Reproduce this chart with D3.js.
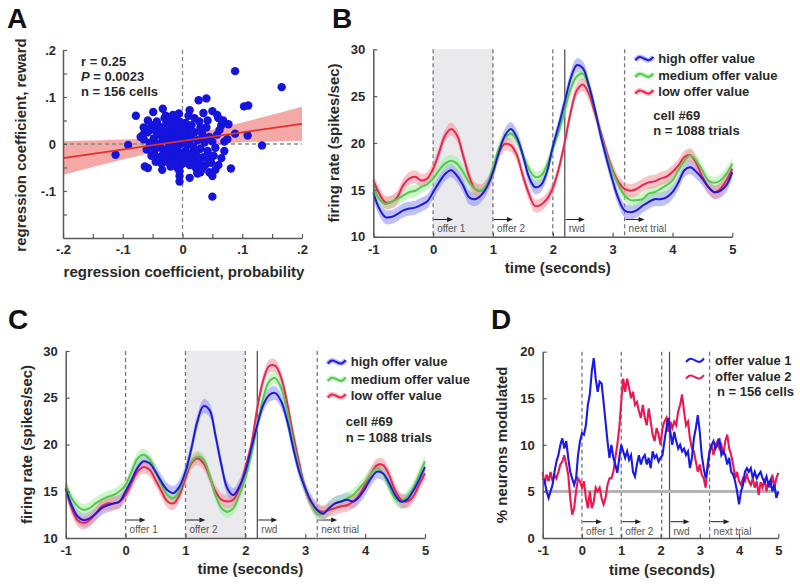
<!DOCTYPE html>
<html><head><meta charset="utf-8">
<script src="https://cdn.jsdelivr.net/npm/d3@7"></script>
<style>
body{margin:0;background:#fff}
svg{display:block}
text{font-family:"Liberation Sans",Arial,Helvetica,sans-serif}
</style>
</head><body>
<script>
// ---------------- DATA ----------------
// Panel A scatter
const scatterX = [0.166,0.088,0.05,0.133,0.109,0.103,0.11,-0.112,-0.091,-0.078,-0.063,-0.058,0.081,0.05,0.025,0.03,0.012,-0.005,-0.005,-0.005,-0.034,0.012,0.027,0.04,-0.049,-0.033,0.077,0.088,0.07,-0.066,-0.065,0.05,0.06,0.065,0.058,-0.055,-0.05,-0.03,0.035,0.075,
 -0.02,-0.012,-0.005,-0.018,-0.008,-0.025,-0.015,-0.004,-0.022,-0.01,-0.028,-0.017,-0.006,-0.024,-0.013,-0.003,-0.02,-0.009,-0.027,-0.016,-0.005,-0.022,-0.011,-0.019,-0.007,-0.025,-0.014,-0.003,-0.02,-0.009,-0.012,-0.027,-0.002,-0.016,-0.006,-0.022,-0.001,-0.013,-0.03,-0.008,
 -0.045,-0.038,-0.048,-0.033,-0.042,-0.036,-0.047,-0.032,-0.04,-0.045,-0.035,-0.04,-0.052,-0.058,-0.055,-0.06,-0.052,-0.03,-0.043,-0.035,
 0.005,0.015,0.028,0.04,0.008,0.02,0.033,0.045,0.004,0.013,0.025,0.037,0.008,0.018,0.03,0.042,0.005,0.014,0.024,0.035,0.045,0.008,0.018,0.028,0.038,0.012,0.022,0.033,0.003,0.048,0.052,0.055,0.05,0.058,0.062,0.02,0.01,0.03,0.042,0.015,
 0.065,0.06,0.055,0.07,-0.065,-0.07,0.003,-0.001,0.0,0.068,-0.058,0.02,0.035,-0.028,0.025,0.045];
const scatterY = [0.121,0.155,-0.112,-0.003,0.018,0.08,0.082,-0.023,-0.002,0.06,-0.048,-0.051,-0.052,-0.068,-0.063,-0.06,-0.072,-0.068,-0.08,-0.058,-0.055,0.072,0.093,0.097,0.068,0.075,0.042,0.022,-0.015,0.02,0.01,0.07,0.055,0.04,0.062,0.03,-0.005,0.055,0.066,0.01,
 0.05,0.055,0.048,0.04,0.038,0.032,0.03,0.028,0.022,0.02,0.015,0.012,0.01,0.005,0.003,0.0,-0.005,-0.008,-0.012,-0.015,-0.018,-0.022,-0.025,-0.032,-0.035,-0.038,-0.042,-0.045,-0.048,-0.05,0.045,0.045,0.04,0.062,0.065,-0.001,0.018,-0.002,0.03,0.025,
 0.028,0.02,0.012,0.01,0.0,-0.008,-0.015,-0.02,-0.028,-0.038,-0.042,0.038,0.04,0.025,0.002,-0.012,-0.025,-0.03,0.048,0.035,
 0.045,0.04,0.048,0.035,0.03,0.025,0.022,0.015,0.015,0.01,0.008,0.003,-0.002,-0.006,-0.01,-0.015,-0.015,-0.02,-0.025,-0.028,-0.032,-0.03,-0.036,-0.04,-0.045,-0.045,-0.05,-0.052,-0.04,-0.04,-0.025,-0.008,0.005,0.02,0.03,0.055,0.06,0.035,0.05,0.02,
 -0.03,-0.045,-0.055,0.005,0.035,0.015,0.005,-0.025,0.035,0.05,0.05,-0.015,0.012,0.06,-0.06,-0.06];
const fitX = [-0.2, 0.2];
const fitY = [-0.030, 0.043];
const bandX  = [-0.2,-0.15,-0.1,-0.05,0,0.05,0.1,0.15,0.2];
const bandLo = [-0.066,-0.049,-0.033,-0.018,-0.0065,0.0,0.0036,0.0055,0.007];
const bandHi = [0.006,0.0075,0.0094,0.013,0.0195,0.031,0.046,0.062,0.079];
const statsA = ["r = 0.25", "P = 0.0023", "n = 156 cells"];
const ticksA = [-0.2,-0.1,0,0.1,0.2];
const tickLabelsA = ["-.2","-.1","0",".1",".2"];
const yTicksA = [-0.1,0,0.1,0.2];
const yTickLabelsA = ["-.1","0",".1",".2"];

// Panels B, C: time grid 0.1 s
const timeBC = d3.range(61).map(i => +(-1 + i*0.1).toFixed(2));
const highB = [14.7,13.0,12.1,12.1,12.4,12.8,13.0,13.1,13.4,13.75, 14.75,15.8,16.7,17.1,16.5,15.5,14.2,14.0,14.4,15.3, 16.9,19.0,20.8,21.5,20.6,18.7,16.4,15.3,15.5,16.9, 19.6,21.9,24.4,26.9,28.3,28.0,26.2,23.7,20.8,18.3, 16.0,14.0,12.8,12.6,12.8,13.3,13.7,14.0,14.0,14.2, 14.75,15.8,17.1,17.4,16.9,16.2,15.3,14.75,14.9,15.5, 16.9];
const medB  = [15.5,14.0,13.5,13.7,14.0,14.4,14.75,14.9,15.3,15.6, 16.2,17.1,17.8,18.1,17.8,16.9,15.8,15.1,14.9,15.6, 17.4,19.4,20.6,21.0,20.3,18.7,17.25,16.4,16.5,17.6, 19.4,21.2,23.5,25.8,27.1,27.4,26.0,23.7,21.0,18.7, 16.9,15.5,14.4,13.9,13.9,14.0,14.6,14.75,15.1,15.5, 16.0,17.1,18.1,18.7,18.1,17.1,16.0,15.75,16.0,16.7, 17.8];
const lowB  = [16.0,14.6,13.7,13.7,14.2,15.5,16.2,16.4,16.0,16.2, 17.25,19.0,20.8,21.5,20.8,18.7,16.5,15.1,14.9,15.5, 16.9,19.0,19.9,19.75,18.7,16.5,14.6,13.3,13.4,14.0, 15.2,17.25,20.1,23.3,25.6,26.25,25.3,23.3,21.2,19.0, 17.1,15.8,15.1,14.9,15.1,15.5,15.8,15.9,16.2,16.4, 16.9,17.6,18.5,18.7,17.8,16.4,15.3,14.75,15.1,16.0, 17.25];
const highC = [15.3,13.5,12.3,11.9,12.1,12.6,13.2,13.5,13.7,13.9, 15.0,16.2,17.5,18.2,18.0,17.1,16.0,15.1,14.8,15.5, 17.1,19.6,22.5,24.1,23.7,21.0,17.8,15.3,14.6,15.5, 17.1,19.6,22.1,24.25,25.3,25.5,24.6,22.5,19.6,17.1, 15.3,13.9,13.0,12.6,13.2,13.7,13.9,14.1,13.9,14.4, 15.3,16.4,17.1,16.9,15.9,14.6,13.9,14.1,15.0,16.2, 17.6];
const medC  = [15.7,14.25,13.4,13.0,13.2,13.7,14.1,14.4,14.6,15.0, 15.7,17.1,18.5,18.9,18.4,17.1,15.7,14.6,14.25,15.1, 16.9,18.2,18.7,18.4,16.75,14.6,13.2,12.8,13.2,14.6, 16.4,18.9,22.1,25.0,26.75,27.1,26.0,23.5,20.3,17.5, 15.3,13.7,12.6,12.6,13.2,13.7,13.9,14.25,14.6,15.3, 16.0,16.9,17.5,16.9,15.5,14.25,13.9,14.4,15.3,16.75, 18.2];
const lowC  = [15.3,13.2,11.9,11.6,11.9,12.6,13.4,13.7,13.7,13.9, 14.6,15.9,17.1,17.6,17.3,16.2,15.0,13.9,13.7,14.6, 16.4,18.0,18.5,18.0,16.6,15.0,14.1,13.9,14.1,15.3, 17.5,20.0,23.9,26.9,28.4,28.4,27.1,24.4,21.0,18.0, 15.3,13.7,13.0,12.8,13.0,13.2,13.4,13.5,13.9,14.6, 15.7,16.9,17.8,17.8,16.75,15.1,14.1,13.9,14.4,15.7, 16.9];
const semBC = [0.75, 0.65, 0.7];       // band half-widths (high, medium, low)
const seriesNamesBC = ["high offer value", "medium offer value", "low offer value"];
const cellInfo = ["cell #69", "n = 1088 trials"];
const timeTicks = [-1,0,1,2,3,4,5];
const rateTicks = [10,15,20,25,30];

// Panel D: time grid 0.05 s
const timeD = d3.range(121).map(i => +(-1 + i*0.05).toFixed(3));
const offer1D = [6.4,6.1,5.0,4.3,5.0,5.7,7.1,8.2,8.9,10.0, 10.7,9.6,10.4,8.6,7.1,6.4,5.7,6.4,8.9,10.4, 11.25,11.1,12.1,14.3,15.4,17.9,19.3,17.1,15.7,16.8, 16.6,14.6,12.5,10.4,8.6,10.0,8.6,7.9,7.0,8.6, 10.0,9.3,8.6,9.3,8.4,8.9,7.1,6.6,7.9,8.9, 7.9,8.6,8.9,7.9,8.6,7.5,9.3,8.6,8.9,8.2, 8.6,8.9,10.4,11.8,12.9,11.4,10.0,11.4,10.4,9.6, 10.0,9.3,9.6,8.9,9.3,7.5,8.6,10.7,11.8,13.2, 11.4,8.9,7.5,6.4,7.5,9.3,10.0,10.4,9.6,10.0, 10.7,8.9,9.3,8.9,7.9,8.6,7.1,6.8,6.1,5.0, 3.6,5.0,5.7,7.1,7.5,7.1,7.5,6.4,7.1,6.4, 6.8,7.1,6.4,6.0,6.6,5.7,6.2,5.0,5.7,4.3, 5.0];
const offer2D = [7.1,5.7,6.8,6.1,7.1,6.1,6.8,6.4,7.1,7.9, 8.2,8.9,7.9,6.8,4.3,2.5,3.2,5.0,6.4,6.1, 5.4,6.1,4.3,3.2,5.0,3.2,3.9,5.4,5.0,5.4, 4.3,3.6,4.3,5.7,6.4,6.4,7.1,8.6,10.0,11.8, 14.6,17.1,15.7,17.1,16.1,15.0,15.7,14.3,14.6,13.6, 12.9,14.3,12.9,12.1,13.9,12.5,11.1,10.4,11.8,11.1, 10.0,11.8,12.5,12.9,11.4,12.5,11.8,12.5,12.1,13.6, 14.3,15.4,13.6,12.1,12.5,10.7,9.6,9.3,8.2,7.1, 7.9,6.8,6.4,5.4,7.9,9.3,10.0,8.9,10.0,10.4, 9.6,10.0,8.9,10.4,11.1,9.6,8.9,7.9,6.4,7.1, 6.1,5.7,6.4,6.1,6.8,6.1,5.7,6.4,5.4,6.1, 4.6,6.0,5.4,6.4,5.0,6.1,5.4,6.8,5.4,6.4, 7.0];
const seriesNamesD = ["offer value 1", "offer value 2"];
const cellsD = "n = 156 cells";
const chanceLevel = 5;
const pctTicks = [0,5,10,15,20];

// task events
const eventLabels = ["offer 1", "offer 2", "rwd", "next trial"];
const eventTimesBC = [0, 1, 2.2, 3.2];
const dashedBC = [0, 1, 2, 3.2];
const solidBC = [2.2];
const eventTimesD = [0, 1, 2.23, 3.25];
const dashedD = [0, 1, 2.03, 3.25];
const solidD = [2.23];

// ---------------- DRAWING ----------------
const FONT = '"Liberation Sans",Arial,Helvetica,sans-serif';
const AX = "#5a5a5a", TXT = "#2a2a2a";
const svg = d3.select("body").append("svg").attr("width", 800).attr("height", 585);

function styleAxis(g) {
  g.select(".domain").attr("stroke", AX).attr("stroke-width", 1.5);
  g.selectAll(".tick line").attr("stroke", AX).attr("stroke-width", 1.2);
  g.selectAll(".tick text").attr("fill", TXT).style("font-size", "13px").style("font-weight", "bold").style("font-family", FONT);
}
function xAxis(x, vals, labels, y, pad) {
  const g = svg.append("g").attr("transform", `translate(0,${y})`)
    .call(d3.axisBottom(x).tickValues(vals).tickFormat((d, i) => labels[i]).tickSizeInner(-4).tickSizeOuter(0).tickPadding(pad));
  styleAxis(g); return g;
}
function yAxis(y, vals, labels, x0, pad) {
  const g = svg.append("g").attr("transform", `translate(${x0},0)`)
    .call(d3.axisLeft(y).tickValues(vals).tickFormat((d, i) => labels[i]).tickSizeInner(-4).tickSizeOuter(0).tickPadding(pad));
  styleAxis(g); return g;
}
function title(txt, x, y, rot, size) {
  const t = svg.append("text").attr("text-anchor", "middle").attr("fill", TXT)
    .style("font-size", (size || 15) + "px").style("font-weight", "bold").text(txt);
  if (rot) t.attr("transform", `translate(${x},${y}) rotate(-90)`);
  else t.attr("x", x).attr("y", y);
  return t;
}
function panelLetter(l, x, y) {
  svg.append("text").attr("x", x).attr("y", y).attr("fill", "#111")
    .style("font-size", "28px").style("font-weight", "bold").text(l);
}
function legendIcon(x, y, color, band) {
  const pts = [[0, 2], [4, -2.5], [9, 0.5], [14, 3], [18, -1.5]].map(p => [x + p[0], y + p[1]]);
  const ln = d3.line().curve(d3.curveBasis);
  if (band) svg.append("path").attr("d", ln(pts)).attr("fill", "none").attr("stroke", band).attr("stroke-width", 5).attr("opacity", 0.6);
  svg.append("path").attr("d", ln(pts)).attr("fill", "none").attr("stroke", color).attr("stroke-width", 2);
}
function events(x, yTop, yBot, dashed, solid, evTimes, arrowY, labelY) {
  dashed.forEach(t => svg.append("line").attr("x1", x(t)).attr("x2", x(t)).attr("y1", yTop).attr("y2", yBot)
    .attr("stroke", "#777").attr("stroke-width", 1.3).attr("stroke-dasharray", "4,3"));
  solid.forEach(t => svg.append("line").attr("x1", x(t)).attr("x2", x(t)).attr("y1", yTop).attr("y2", yBot)
    .attr("stroke", "#555").attr("stroke-width", 1.3));
  evTimes.forEach((t, i) => {
    const x0 = x(t) + 1;
    svg.append("line").attr("x1", x0).attr("x2", x0 + 14).attr("y1", arrowY).attr("y2", arrowY).attr("stroke", "#222").attr("stroke-width", 1);
    svg.append("path").attr("d", `M${x0 + 19},${arrowY} L${x0 + 13},${arrowY - 2.5} L${x0 + 13},${arrowY + 2.5} Z`).attr("fill", "#222");
    svg.append("text").attr("x", x(t) + 4).attr("y", labelY).attr("fill", "#555")
      .style("font-size", "10px").text(eventLabels[i]);
  });
}

// ---- Panel A ----
(function () {
  const x = d3.scaleLinear([-0.2, 0.2], [63, 302]);
  const y = d3.scaleLinear([-0.2, 0.2], [238, 50]);
  const band = d3.area().x((d, i) => x(bandX[i])).y0((d, i) => y(bandLo[i])).y1((d, i) => y(bandHi[i])).curve(d3.curveMonotoneX);
  svg.append("path").attr("d", band(bandX)).attr("fill", "#f4a09c").attr("opacity", 0.9);
  svg.append("line").attr("x1", x(0)).attr("x2", x(0)).attr("y1", y(0.2)).attr("y2", y(-0.2)).attr("stroke", "#888").attr("stroke-width", 1.3).attr("stroke-dasharray", "4,3");
  svg.append("line").attr("x1", x(-0.2)).attr("x2", x(0.2)).attr("y1", y(0)).attr("y2", y(0)).attr("stroke", "#888").attr("stroke-width", 1.3).attr("stroke-dasharray", "4,3");
  svg.append("g").selectAll("circle").data(scatterX).join("circle")
    .attr("cx", d => x(d)).attr("cy", (d, i) => y(scatterY[i])).attr("r", 4.2).attr("fill", "#1414dc");
  svg.append("line").attr("x1", x(fitX[0])).attr("x2", x(fitX[1])).attr("y1", y(fitY[0])).attr("y2", y(fitY[1]))
    .attr("stroke", "#e0302a").attr("stroke-width", 1.8);
  xAxis(x, ticksA.concat([-0.15, -0.05, 0.05, 0.15]), tickLabelsA.concat(["", "", "", ""]), 238, 7);
  yAxis(y, yTicksA.concat([-0.15, -0.05, 0.05, 0.15]), yTickLabelsA.concat(["", "", "", ""]), 63, 7);
  title("regression coefficient, probability", 184, 277);
  title("regression coefficient, reward", 26, 145, true);
  const st = svg.append("g").style("font-size", "13px").style("font-weight", "bold").attr("fill", TXT);
  st.append("text").attr("x", 81).attr("y", 66).text(statsA[0]);
  const p = st.append("text").attr("x", 81).attr("y", 80.5);
  p.append("tspan").style("font-style", "italic").text(statsA[1].slice(0, 1));
  p.append("tspan").text(statsA[1].slice(1));
  st.append("text").attr("x", 81).attr("y", 95.5).text(statsA[2]);
  panelLetter("A", 7, 28);
})();

// ---- Panels B & C ----
function tracePanel(cfg) {
  const x = d3.scaleLinear([-1, 5], [cfg.x0, cfg.x1]);
  const y = d3.scaleLinear([10, 30], [cfg.y1, cfg.y0]);
  svg.append("rect").attr("x", x(cfg.shade[0])).attr("width", x(cfg.shade[1]) - x(cfg.shade[0]))
    .attr("y", cfg.y0).attr("height", cfg.y1 - cfg.y0).attr("fill", "#e9e9ee");
  events(x, cfg.y0, cfg.y1, dashedBC, solidBC, eventTimesBC, cfg.arrowY, cfg.labelY);
  const cols = [["#1c1cd6", "#8c8ef6"], ["#55c84f", "#a3ee9c"], ["#e5294f", "#f4929f"]];
  cfg.series.forEach((s, k) => {
    const ar = d3.area().x((d, i) => x(timeBC[i])).y0(d => y(d - semBC[k])).y1(d => y(d + semBC[k])).curve(d3.curveCatmullRom);
    svg.append("path").attr("d", ar(s)).attr("fill", cols[k][1]).attr("opacity", 0.55);
  });
  [2, 1, 0].forEach(k => {
    const ln = d3.line().x((d, i) => x(timeBC[i])).y(d => y(d)).curve(d3.curveCatmullRom);
    svg.append("path").attr("d", ln(cfg.series[k])).attr("fill", "none").attr("stroke", cols[k][0]).attr("stroke-width", 2);
  });
  xAxis(x, timeTicks, timeTicks.map(String), cfg.y1, 8);
  yAxis(y, rateTicks, rateTicks.map(String), cfg.x0, 8);
  title("time (seconds)", (cfg.x0 + cfg.x1) / 2 + 5, cfg.y1 + 36);
  title("firing rate (spikes/sec)", cfg.x0 - 34, (cfg.y0 + cfg.y1) / 2, true);
  const lx = cfg.x0 + 262;
  cfg.legendY.forEach((ly, k) => {
    legendIcon(lx, ly, cols[k][0], cols[k][1]);
    svg.append("text").attr("x", lx + 23).attr("y", ly + 4.6).attr("fill", TXT)
      .style("font-size", "13px").style("font-weight", "bold").text(seriesNamesBC[k]);
  });
  cellInfo.forEach((t, k) => svg.append("text").attr("x", lx + 18).attr("y", cfg.infoY[k]).attr("fill", TXT)
    .style("font-size", "13px").style("font-weight", "bold").text(t));
}
tracePanel({ x0: 373.3, x1: 732.3, y0: 49.3, y1: 236.7, shade: [0, 1], series: [highB, medB, lowB],
  arrowY: 219.5, labelY: 232, legendY: [58.3, 75, 91.7], infoY: [119.7, 135.3] });
panelLetter("B", 332, 28);
tracePanel({ x0: 65.7, x1: 425, y0: 351, y1: 538, shade: [1, 2], series: [highC, medC, lowC],
  arrowY: 520, labelY: 533, legendY: [361.7, 379, 395.7], infoY: [426.3, 442.3] });
panelLetter("C", 8, 329);

// ---- Panel D ----
(function () {
  const x = d3.scaleLinear([-1, 5], [542.7, 778.3]);
  const y = d3.scaleLinear([0, 20], [538, 351.7]);
  events(x, 351.7, 538, dashedD, solidD, eventTimesD, 521.7, 535);
  svg.append("line").attr("x1", x(-1)).attr("x2", x(5)).attr("y1", y(chanceLevel)).attr("y2", y(chanceLevel))
    .attr("stroke", "#b4b4b4").attr("stroke-width", 3);
  const ln = d3.line().x((d, i) => x(timeD[i])).y(d => y(d));
  svg.append("path").attr("d", ln(offer2D)).attr("fill", "none").attr("stroke", "#ea1850").attr("stroke-width", 2.1);
  svg.append("path").attr("d", ln(offer1D)).attr("fill", "none").attr("stroke", "#1a1ae6").attr("stroke-width", 2.1);
  xAxis(x, timeTicks, timeTicks.map(String), 538, 8);
  yAxis(y, pctTicks, pctTicks.map(String), 542.7, 8);
  title("time (seconds)", 662, 575);
  title("% neurons modulated", 507, 444.8, true);
  const cols = ["#1a1ae6", "#ea1850"];
  [360, 376.7].forEach((ly, k) => {
    legendIcon(686, ly, cols[k], null);
    svg.append("text").attr("x", 715).attr("y", ly + 4.6).attr("fill", TXT)
      .style("font-size", "13px").style("font-weight", "bold").text(seriesNamesD[k]);
  });
  svg.append("text").attr("x", 717).attr("y", 396.3).attr("fill", TXT)
    .style("font-size", "13px").style("font-weight", "bold").text(cellsD);
  panelLetter("D", 491, 329);
})();
</script>
</body></html>
